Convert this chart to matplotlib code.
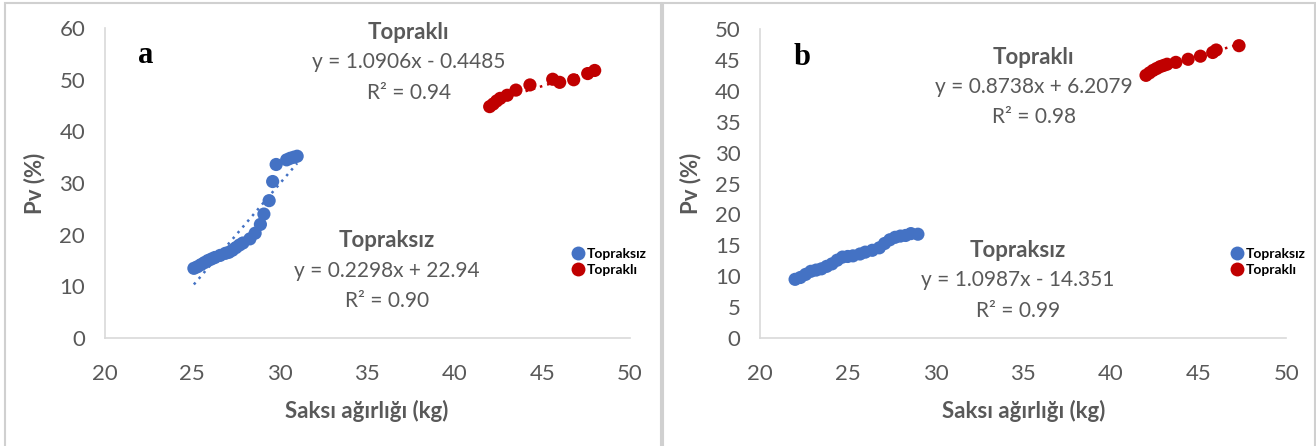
import matplotlib
matplotlib.use('Agg')
import matplotlib.pyplot as plt
from matplotlib.lines import Line2D
from matplotlib.patches import Rectangle
import numpy as np

# ── data ──────────────────────────────────────────────────────────────────────
a_topraksiz_x = [25.1, 25.3, 25.5, 25.7, 25.9, 26.1, 26.3, 26.6, 26.9, 27.1, 27.3,
                 27.5, 27.7, 27.9, 28.3, 28.6, 28.9, 29.1, 29.4, 29.6, 29.8, 30.4,
                 30.6, 30.8, 31.0]
a_topraksiz_y = [13.5, 13.8, 14.2, 14.6, 15.0, 15.3, 15.6, 16.0, 16.4, 16.6, 17.0,
                 17.5, 18.0, 18.4, 19.2, 20.3, 22.0, 24.0, 26.6, 30.3, 33.6, 34.5,
                 34.8, 35.0, 35.2]
a_toprakli_x = [42.0, 42.2, 42.4, 42.6, 43.0, 43.5, 44.3, 45.6, 46.0, 46.8, 47.6, 48.0]
a_toprakli_y = [44.8, 45.3, 45.9, 46.4, 47.0, 48.0, 49.0, 50.1, 49.5, 50.0, 51.2, 51.8]

b_topraksiz_x = [22.0, 22.3, 22.6, 22.9, 23.2, 23.5, 23.8, 24.1, 24.4, 24.7, 25.0,
                 25.3, 25.7, 26.0, 26.4, 26.8, 27.1, 27.4, 27.7, 28.0, 28.3, 28.6,
                 29.0]
b_topraksiz_y = [9.5, 9.8, 10.3, 10.8, 11.0, 11.2, 11.6, 12.0, 12.6, 13.1, 13.2,
                 13.3, 13.6, 13.9, 14.2, 14.6, 15.3, 15.9, 16.3, 16.5, 16.6, 16.9,
                 16.8]
b_toprakli_x = [42.0, 42.2, 42.4, 42.6, 42.8, 43.0, 43.2, 43.7, 44.4, 45.1, 45.8, 46.0, 47.3]
b_toprakli_y = [42.5, 42.9, 43.3, 43.6, 43.9, 44.1, 44.3, 44.6, 45.1, 45.6, 46.2, 46.6, 47.3]

x_ticks = [20, 25, 30, 35, 40, 45, 50]
a_y_ticks = [0, 10, 20, 30, 40, 50, 60]
b_y_ticks = [0, 5, 10, 15, 20, 25, 30, 35, 40, 45, 50]

# ── style ─────────────────────────────────────────────────────────────────────
BLUE = '#4472C4'
RED = '#C00000'
TEXT = '#595959'
SPINE = '#D9D9D9'
FONT = ['Lato', 'DejaVu Sans']
plt.rcParams['font.family'] = FONT


def trend(ax, xs, ys, color):
    k, b = np.polyfit(xs, ys, 1)
    xx = np.array([min(xs), max(xs)])
    ax.plot(xx, k * xx + b, color=color, linestyle=(0, (1, 2)), linewidth=1.8, zorder=2)


def panel(ax, letter, ymax, yticks, blue, red, texts):
    ax.scatter(*blue, s=90, color=BLUE, edgecolors='none', zorder=3)
    ax.scatter(*red, s=90, color=RED, edgecolors='none', zorder=3)
    trend(ax, *blue, BLUE)
    trend(ax, *red, RED)
    ax.set_xlim(20, 50)
    ax.set_ylim(0, ymax)
    ax.set_xticks(x_ticks)
    ax.set_yticks(yticks)
    for s in ('top', 'right'):
        ax.spines[s].set_visible(False)
    for s in ('left', 'bottom'):
        ax.spines[s].set_color(SPINE)
        ax.spines[s].set_linewidth(1.2)
    ax.tick_params(length=0, labelsize=16, colors=TEXT)
    ax.tick_params(axis='x', pad=19)
    ax.tick_params(axis='y', pad=14)
    ax.set_xlabel('Saksı ağırlığı (kg)', fontsize=16, fontweight='bold', color=TEXT, labelpad=11)
    ax.set_ylabel('Pv (%)', fontsize=16, fontweight='bold', color=TEXT, labelpad=10)
    ax.text(texts['letter'][0], texts['letter'][1], letter, transform=ax.transAxes,
            ha='center', va='center', fontsize=22, fontweight='bold',
            family='Liberation Serif', color='black')
    for key, lines in (('red', texts['red_lines']), ('blue', texts['blue_lines'])):
        x0, ys = texts[key]
        for (txt, bold), yy in zip(lines, ys):
            ax.text(x0, yy, txt, transform=ax.transAxes, ha='center', va='center',
                    fontsize=16 if bold else 15, color=TEXT,
                    fontweight='bold' if bold else 'normal')


fig = plt.figure(figsize=(13.16, 4.46), dpi=100)

# panel frames
fig.patches.append(Rectangle((0.004, -0.01), 0.498, 1.003, transform=fig.transFigure,
                             fill=False, edgecolor='#D0D0D0', linewidth=1.5))
fig.patches.append(Rectangle((0.504, -0.01), 0.495, 1.003, transform=fig.transFigure,
                             fill=False, edgecolor='#D0D0D0', linewidth=1.5))

ax_a = fig.add_axes([0.0795, 0.242, 0.399, 0.695])
ax_b = fig.add_axes([0.5775, 0.242, 0.400, 0.693])

panel(ax_a, 'a', 60, a_y_ticks,
      (a_topraksiz_x, a_topraksiz_y), (a_toprakli_x, a_toprakli_y),
      {'letter': (0.078, 0.913),
       'red': (0.579, [0.985, 0.890, 0.790]),
       'red_lines': [('Topraklı', True), ('y = 1.0906x - 0.4485', False), ('R² = 0.94', False)],
       'blue': (0.537, [0.316, 0.216, 0.119]),
       'blue_lines': [('Topraksız', True), ('y = 0.2298x + 22.94', False), ('R² = 0.90', False)]})

panel(ax_b, 'b', 50, b_y_ticks,
      (b_topraksiz_x, b_topraksiz_y), (b_toprakli_x, b_toprakli_y),
      {'letter': (0.08, 0.909),
       'red': (0.52, [0.909, 0.812, 0.715]),
       'red_lines': [('Topraklı', True), ('y = 0.8738x + 6.2079', False), ('R² = 0.98', False)],
       'blue': (0.49, [0.282, 0.188, 0.087]),
       'blue_lines': [('Topraksız', True), ('y = 1.0987x - 14.351', False), ('R² = 0.99', False)]})

handles = [Line2D([0], [0], marker='o', linestyle='none', markersize=10,
                  markerfacecolor=c, markeredgecolor='none', label=l)
           for c, l in ((BLUE, 'Topraksız'), (RED, 'Topraklı'))]
for xa in (0.436, 0.937):
    fig.legend(handles=handles, loc='center left', bbox_to_anchor=(xa, 0.413),
               frameon=False, handlelength=0.6, handletextpad=0.3,
               borderpad=0, borderaxespad=0, labelspacing=0.25,
               prop={'size': 10, 'weight': 'bold', 'family': FONT})

fig.savefig('out.png', dpi=100)
